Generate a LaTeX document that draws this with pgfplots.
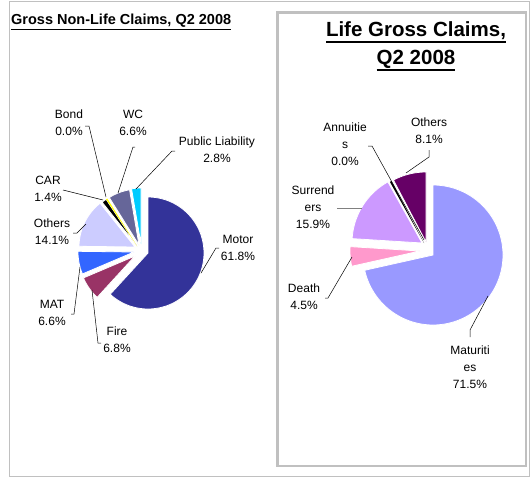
\documentclass[border=0pt]{standalone}
\usepackage{pgfplots}
\pgfplotsset{compat=1.18}
\usepackage{fontspec}
\setmainfont{Liberation Sans}
\definecolor{cMotor}{HTML}{333399}
\definecolor{cFire}{HTML}{993366}
\definecolor{cMAT}{HTML}{3366FF}
\definecolor{cOthersL}{HTML}{CCCCFF}
\definecolor{cCAR}{HTML}{000000}
\definecolor{cBond}{HTML}{FFFF00}
\definecolor{cWC}{HTML}{666699}
\definecolor{cPL}{HTML}{00CCFF}
\definecolor{cMat}{HTML}{9999FF}
\definecolor{cDeath}{HTML}{FF99CC}
\definecolor{cSurr}{HTML}{CC99FF}
\definecolor{cAnn}{HTML}{000000}
\definecolor{cOthersR}{HTML}{660066}
\definecolor{frame}{HTML}{C0C0C0}
% slice: cx, cy, r, start %, end %, colour, border
\newcommand{\slice}[7]{%
  \addplot[fill=#6, draw=#7, line width=0.8pt, domain={90-3.6*#5}:{90-3.6*#4}, samples=90, variable=\t]
    ({#1+#3*cos(\t)},{#2-#3*sin(\t)}) -- (axis cs:#1,#2) -- cycle;}
\newcommand{\ttl}[2]{\leavevmode\vtop{\hbox{#2}\kern1.2bp\hrule height #1}}
\begin{document}
\begin{tikzpicture}
\begin{axis}[width=530bp, height=479bp, scale only axis, xmin=0, xmax=530, ymin=0, ymax=479,
  y dir=reverse, hide axis, clip=false]
\path (axis cs:0,0) (axis cs:530,479);
% frames
\draw[frame, line width=1bp] (axis cs:9,2) rectangle (axis cs:529.5,476);
\draw[frame, line width=2.5bp] (axis cs:277.5,12.5) rectangle (axis cs:526,466);
% titles
\node[anchor=base west, font=\fontsize{14.5bp}{16bp}\selectfont\bfseries, inner sep=0] at (axis cs:11,25) {\ttl{1.3bp}{Gross Non-Life Claims, Q2 2008}};
\node[anchor=base, font=\fontsize{20.5bp}{27bp}\selectfont\bfseries, inner sep=0, align=center] at (axis cs:416,37) {\ttl{2bp}{Life Gross Claims,}};
\node[anchor=base, font=\fontsize{20.5bp}{27bp}\selectfont\bfseries, inner sep=0, align=center] at (axis cs:416,64) {\ttl{2bp}{Q2 2008}};
% ---- left pie (percent values cumulated) ----
\slice{148}{253}{56}{0}{61.8}{cMotor}{white}
\slice{135}{256}{56}{61.8}{68.6}{cFire}{white}
\slice{134}{252}{56}{68.6}{75.2}{cMAT}{white}
\slice{135}{247}{56}{75.2}{89.3}{cOthersL}{white}
\slice{137}{246}{56}{89.3}{90.7}{cCAR}{white}
\slice{137}{246}{56}{90.7}{91.1}{cBond}{none}
\slice{139}{245}{56}{91.1}{97.3}{cWC}{white}
\slice{141}{244}{56}{97.3}{100}{cPL}{white}
% ---- right pie ----
\slice{433}{255}{70}{0}{71.5}{cMat}{white}
\slice{420}{251}{70}{71.5}{76.0}{cDeath}{white}
\slice{422}{243}{70}{76.0}{91.9}{cSurr}{white}
\slice{424}{243}{70}{91.9}{92.3}{cAnn}{none}
\slice{426}{242}{70}{92.3}{100}{cOthersR}{white}
% leader lines
\addplot[black, line width=0.5bp] coordinates {(85,126) (89,126) (106,197)};
\addplot[black, line width=0.5bp] coordinates {(135,147) (133,147) (118,193)};
\addplot[black, line width=0.5bp] coordinates {(175,151) (172,151) (136,189)};
\addplot[black, line width=0.5bp] coordinates {(63,190) (103,200)};
\addplot[black, line width=0.5bp] coordinates {(73,233) (77,233) (86,224)};
\addplot[black, line width=0.5bp] coordinates {(219,248) (216,248) (201,273)};
\addplot[black, line width=0.5bp] coordinates {(71,314) (74,314) (80,267)};
\addplot[black, line width=0.5bp] coordinates {(92,290) (98,343) (101,343)};
\addplot[black, line width=0.5bp] coordinates {(368,146) (372,146) (424,240)};
\addplot[black, line width=0.5bp] coordinates {(429,150) (429,157) (406,173)};
\addplot[gray, line width=0.8bp] coordinates {(337,208) (362,208)};
\addplot[black, line width=0.5bp] coordinates {(325,298) (328,298) (352,257)};
\addplot[black, line width=0.5bp] coordinates {(470,337) (470,330) (488,296)};
% labels
\tikzset{lab/.style={font=\fontsize{12bp}{17bp}\selectfont, align=center, inner sep=0}}
\node[lab] at (axis cs:69,123) {Bond\\0.0\%};
\node[lab] at (axis cs:133,123) {WC\\6.6\%};
\node[lab] at (axis cs:217,150) {Public Liability\\2.8\%};
\node[lab] at (axis cs:48,189) {CAR\\1.4\%};
\node[lab] at (axis cs:52,232) {Others\\14.1\%};
\node[lab] at (axis cs:238,248) {Motor\\61.8\%};
\node[lab] at (axis cs:52,313) {MAT\\6.6\%};
\node[lab] at (axis cs:117,340) {Fire\\6.8\%};
\node[lab] at (axis cs:345,144) {Annuitie\\s\\0.0\%};
\node[lab] at (axis cs:429,131) {Others\\8.1\%};
\node[lab] at (axis cs:313,207) {Surrend\\ers\\15.9\%};
\node[lab] at (axis cs:304,297) {Death\\4.5\%};
\node[lab] at (axis cs:470,367) {Maturiti\\es\\71.5\%};
\end{axis}
\end{tikzpicture}
\end{document}
